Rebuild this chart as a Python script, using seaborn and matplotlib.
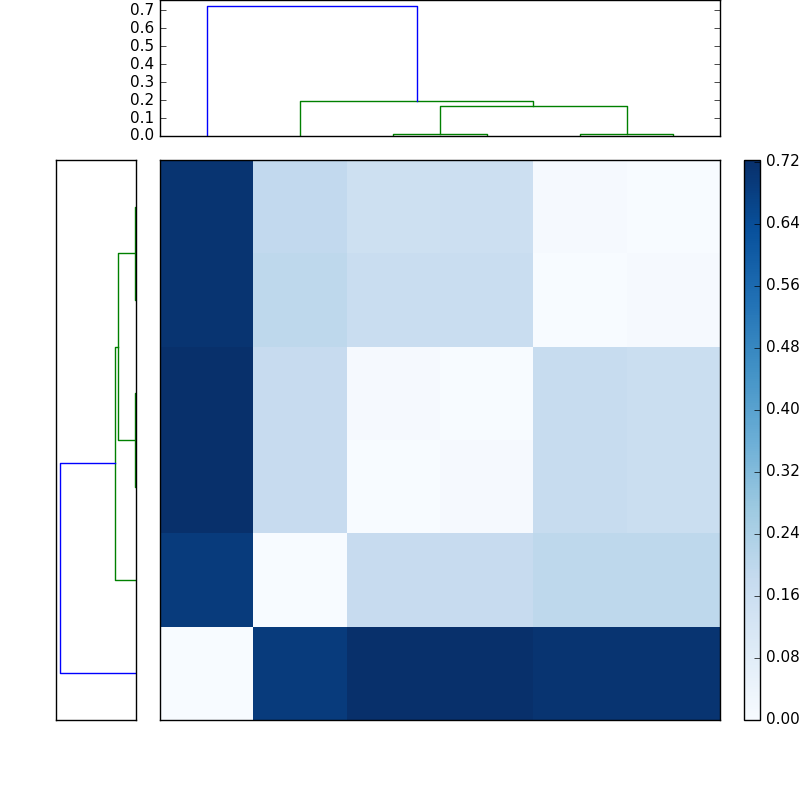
import numpy as np
import matplotlib
matplotlib.use("Agg")
import matplotlib.pyplot as plt
import seaborn as sns

# distance matrix, row 0 drawn at the bottom
dist = [
    [0.00, 0.69, 0.72, 0.72, 0.71, 0.71],
    [0.69, 0.00, 0.18, 0.18, 0.20, 0.20],
    [0.72, 0.18, 0.00, 0.01, 0.175, 0.165],
    [0.72, 0.18, 0.01, 0.00, 0.175, 0.165],
    [0.71, 0.20, 0.17, 0.17, 0.00, 0.01],
    [0.71, 0.19, 0.155, 0.16, 0.01, 0.00],
]

# linkage rows: cluster a, cluster b, merge height (new clusters get ids 6, 7, ...)
link_a = [2, 4, 6, 1, 0]
link_b = [3, 5, 7, 8, 9]
link_h = [0.010, 0.012, 0.170, 0.197, 0.722]

cbar_ticks = [0.00, 0.08, 0.16, 0.24, 0.32, 0.40, 0.48, 0.56, 0.64, 0.72]
top_ticks = [0.0, 0.1, 0.2, 0.3, 0.4, 0.5, 0.6, 0.7]


def dendro_segments(a_list, b_list, h_list, n):
    """scipy-like icoord/dcoord from a small linkage"""
    pos = {i: 5 + 10 * i for i in range(n)}
    hgt = {i: 0.0 for i in range(n)}
    segs = []
    for k, (a, b, h) in enumerate(zip(a_list, b_list, h_list)):
        xs = [pos[a], pos[a], pos[b], pos[b]]
        ys = [hgt[a], h, h, hgt[b]]
        segs.append((xs, ys, h))
        pos[n + k] = (pos[a] + pos[b]) / 2.0
        hgt[n + k] = h
    return segs


plt.style.use("classic")
fig = plt.figure(figsize=(8, 8), dpi=100, facecolor="white")

n = len(dist)
segs = dendro_segments(link_a, link_b, link_h, n)
thresh = 0.7 * max(link_h)
ymax = max(link_h) * 1.05

# left dendrogram
ax_left = fig.add_axes([0.07, 0.1, 0.1, 0.7])
for xs, ys, h in segs:
    ax_left.plot(ys, xs, color="b" if h > thresh else "g", lw=1)
ax_left.set_xlim(ymax, 0)
ax_left.set_ylim(0, 10 * n)
ax_left.set_xticks([])
ax_left.set_yticks([])

# top dendrogram
ax_top = fig.add_axes([0.2, 0.83, 0.7, 0.17])
for xs, ys, h in segs:
    ax_top.plot(xs, ys, color="b" if h > thresh else "g", lw=1)
ax_top.set_xlim(0, 10 * n)
ax_top.set_ylim(0, ymax)
ax_top.set_xticks([])
ax_top.set_yticks(top_ticks)
ax_top.set_yticklabels(["%.1f" % t for t in top_ticks])
ax_top.tick_params(axis="y", direction="in", left=True, right=True, labelsize=11)

# heatmap + colorbar
ax_hm = fig.add_axes([0.2, 0.1, 0.7, 0.7])
cax = fig.add_axes([0.93, 0.1, 0.02, 0.7])
sns.heatmap(np.array(dist), ax=ax_hm, cbar_ax=cax, cmap="Blues",
            vmin=0, vmax=max(link_h), xticklabels=False, yticklabels=False)
ax_hm.set_ylim(0, n)
ax_hm.set_xlim(0, n)
for s in ax_hm.spines.values():
    s.set_visible(True)
    s.set_color("black")
    s.set_linewidth(1)

cb = ax_hm.collections[0].colorbar
cb.outline.set_linewidth(1)
cb.outline.set_edgecolor("black")
cb.set_ticks(cbar_ticks)
cb.set_ticklabels(["%.2f" % t for t in cbar_ticks])
cax.tick_params(axis="y", direction="in", right=True, left=False, length=4,
                labelsize=11, labelright=True, labelleft=False)

fig.savefig("out.png", dpi=100, facecolor="white")
